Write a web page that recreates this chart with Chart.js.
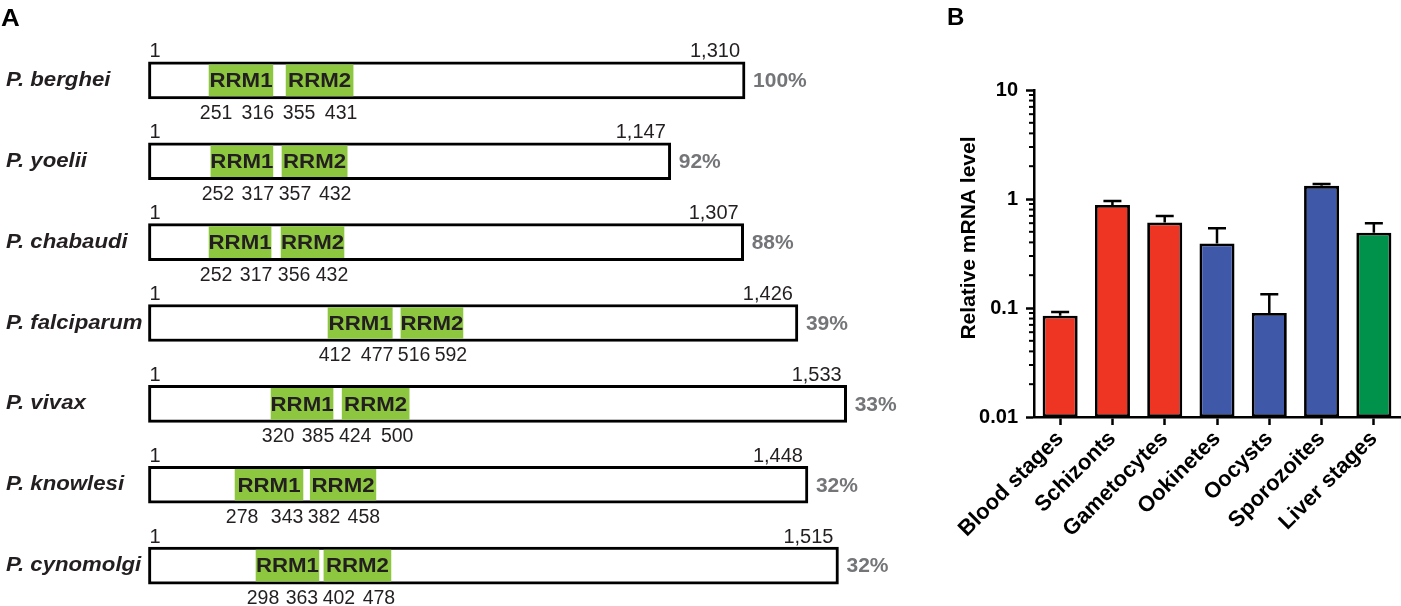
<!DOCTYPE html>
<html lang="en">
  <head>
    <meta charset="UTF-8" />
    <title>RRM protein orthologues and mRNA levels</title>
    <script src="https://cdn.jsdelivr.net/npm/chart.js"></script>
    <style>
      body {
        margin: 0;
        background: #fff;
      }
      #panelA {
        position: absolute;
        left: 0;
        top: 0;
        width: 900px;
        height: 606px;
      }
      #panelB {
        position: absolute;
        left: 900px;
        top: 0;
        width: 501px;
        height: 606px;
      }
    </style>
  </head>
  <body>
    <div id="panelA"><canvas id="domainChart"></canvas></div>
    <div id="panelB"><canvas id="mrnaChart"></canvas></div>
    <script>
      const fam = "'Liberation Sans', Arial, Helvetica, sans-serif";
      Chart.defaults.font.family = fam;
      Chart.defaults.color = "#000";

      // ---- panel A data ----
      const species = ["P. berghei", "P. yoelii", "P. chabaudi", "P. falciparum", "P. vivax", "P. knowlesi", "P. cynomolgi"];
      const proteinLength = [1310, 1147, 1307, 1426, 1533, 1448, 1515];
      const identity = [100, 92, 88, 39, 33, 32, 32];
      // residue boundaries printed under each domain
      const rrm1Residues = [[251, 316], [252, 317], [252, 317], [412, 477], [320, 385], [278, 343], [298, 363]];
      const rrm2Residues = [[355, 431], [357, 432], [356, 432], [516, 592], [424, 500], [382, 458], [402, 478]];
      // the figure draws the domains schematically (not to scale): extents
      const rrm1Drawn = [[134, 274], [138, 274], [134, 270], [395, 536], [270, 406], [191, 340], [237, 375]];
      const rrm2Drawn = [[303, 450], [294, 437], [292, 430], [555, 691], [426, 573], [356, 500], [386, 533]];

      // ---- panel B data ----
      const stages = ["Blood stages", "Schizonts", "Gametocytes", "Ookinetes", "Oocysts", "Sporozoites", "Liver stages"];
      const mrnaLevel = [0.085, 0.88, 0.61, 0.39, 0.09, 1.32, 0.49];
      const mrnaSd = [0.007, 0.08, 0.09, 0.15, 0.044, 0.05, 0.11];
      const yTicks = [0.01, 0.1, 1, 10];

      const red = "#ee3524";
      const blue = "#3f58a7";
      const green = "#00924a";
      const stageColors = [red, red, red, blue, blue, blue, green];
      const domainGreen = "#8dc63f";

      // text drawn slightly wider, like the source figure
      function wideText(ctx, str, x, y, sx) {
        ctx.save();
        ctx.translate(x, y);
        ctx.scale(sx, 1);
        ctx.fillText(str, 0, 0);
        ctx.restore();
      }

      const domainText = {
        id: "domainText",
        afterDatasetsDraw(chart) {
          const ctx = chart.ctx;
          const x = chart.scales.x;
          const y = chart.scales.y;
          ctx.save();
          ctx.fillStyle = "#000";
          ctx.textAlign = "left";
          ctx.textBaseline = "alphabetic";
          ctx.font = "bold 24px " + fam;
          wideText(ctx, "A", 1, 26, 1.08);

          species.forEach((name, i) => {
            const cy = y.getPixelForValue(i);
            const x0 = x.getPixelForValue(1);
            const x1 = x.getPixelForValue(proteinLength[i]);

            ctx.fillStyle = "#231f20";
            ctx.textAlign = "left";
            ctx.textBaseline = "middle";
            ctx.font = "italic bold 20px " + fam;
            wideText(ctx, name, 6, cy, 1.11);

            ctx.font = "20px " + fam;
            ctx.textBaseline = "alphabetic";
            ctx.fillText("1", x0 + 1, cy - 23);
            ctx.textAlign = "right";
            ctx.fillText(proteinLength[i].toLocaleString("en-US"), x1 - 5, cy - 23);

            ctx.textAlign = "left";
            ctx.textBaseline = "middle";
            ctx.font = "bold 21px " + fam;
            ctx.fillStyle = "#747578";
            ctx.fillText(identity[i] + "%", x1 + 8, cy + 1);

            const a1 = x.getPixelForValue(rrm1Drawn[i][0]);
            const b1 = x.getPixelForValue(rrm1Drawn[i][1]);
            const a2 = x.getPixelForValue(rrm2Drawn[i][0]);
            const b2 = x.getPixelForValue(rrm2Drawn[i][1]);

            ctx.fillStyle = "#231f20";
            ctx.textAlign = "center";
            ctx.font = "bold 21px " + fam;
            wideText(ctx, "RRM1", (a1 + b1) / 2, cy + 1, 1.06);
            wideText(ctx, "RRM2", (a2 + b2) / 2, cy + 1, 1.06);

            // residue numbers, the two inner ones kept apart
            let p1 = b1 - 15;
            let p2 = a2 + 13;
            if (p2 - p1 < 37) {
              const mid = (p1 + p2) / 2;
              p1 = mid - 18.5;
              p2 = mid + 18.5;
            }
            ctx.font = "19.5px " + fam;
            ctx.fillText(rrm1Residues[i][0], a1 + 7, cy + 33);
            ctx.fillText(rrm1Residues[i][1], p1, cy + 33);
            ctx.fillText(rrm2Residues[i][0], p2, cy + 33);
            ctx.fillText(rrm2Residues[i][1], b2 - 12, cy + 33);
          });
          ctx.restore();
        },
      };

      new Chart(document.getElementById("domainChart"), {
        type: "bar",
        data: {
          labels: species,
          datasets: [
            {
              label: "protein",
              data: proteinLength.map((l) => [1, l]),
              backgroundColor: "#fff",
              borderColor: "#000",
              borderWidth: 3,
              borderSkipped: false,
              barThickness: 37,
              grouped: false,
              order: 2,
            },
            {
              label: "RRM1",
              data: rrm1Drawn,
              backgroundColor: domainGreen,
              borderWidth: 0,
              barThickness: 31,
              grouped: false,
              order: 1,
            },
            {
              label: "RRM2",
              data: rrm2Drawn,
              backgroundColor: domainGreen,
              borderWidth: 0,
              barThickness: 31,
              grouped: false,
              order: 1,
            },
          ],
        },
        options: {
          indexAxis: "y",
          responsive: true,
          maintainAspectRatio: false,
          animation: false,
          layout: { padding: { left: 148, right: 0, top: 40, bottom: 0 } },
          plugins: { legend: { display: false }, tooltip: { enabled: false } },
          scales: {
            x: { type: "linear", min: 0, max: 1650, display: false },
            y: { display: false },
          },
        },
        plugins: [domainText],
      });

      const mrnaExtras = {
        id: "mrnaExtras",
        afterDatasetsDraw(chart) {
          const ctx = chart.ctx;
          const xs = chart.scales.x;
          const ys = chart.scales.y;
          ctx.save();
          ctx.strokeStyle = "#000";
          ctx.lineWidth = 2.5;
          // upper error bars
          mrnaLevel.forEach((v, i) => {
            const cx = xs.getPixelForValue(i);
            const top = ys.getPixelForValue(v);
            const e = ys.getPixelForValue(v + mrnaSd[i]);
            ctx.beginPath();
            ctx.moveTo(cx, top);
            ctx.lineTo(cx, e);
            ctx.moveTo(cx - 9, e);
            ctx.lineTo(cx + 9, e);
            ctx.stroke();
          });
          // minor log ticks
          ctx.lineWidth = 2;
          const ax = chart.chartArea.left;
          [0.01, 0.1, 1].forEach((d) => {
            for (let m = 2; m <= 9; m++) {
              const py = ys.getPixelForValue(m * d);
              ctx.beginPath();
              ctx.moveTo(ax - 5, py);
              ctx.lineTo(ax, py);
              ctx.stroke();
            }
          });
          // axis title, sits a little above the axis middle in the figure
          ctx.fillStyle = "#000";
          ctx.font = "bold 21px " + fam;
          ctx.textAlign = "center";
          ctx.textBaseline = "middle";
          ctx.save();
          ctx.translate(69, 238);
          ctx.rotate(-Math.PI / 2);
          ctx.fillText("Relative mRNA level", 0, 0);
          ctx.restore();

          ctx.font = "bold 24px " + fam;
          ctx.textAlign = "left";
          ctx.textBaseline = "alphabetic";
          ctx.fillText("B", 47, 25);
          ctx.restore();
        },
      };

      new Chart(document.getElementById("mrnaChart"), {
        type: "bar",
        data: {
          labels: stages,
          datasets: [
            {
              label: "Relative mRNA level",
              data: mrnaLevel,
              backgroundColor: stageColors,
              borderColor: "#000",
              borderWidth: 2.8,
              borderSkipped: false,
              categoryPercentage: 1,
              barPercentage: 0.67,
            },
          ],
        },
        options: {
          responsive: true,
          maintainAspectRatio: false,
          animation: false,
          layout: { padding: { left: 53, right: 1, top: 90, bottom: 0 } },
          plugins: { legend: { display: false }, tooltip: { enabled: false } },
          scales: {
            x: {
              type: "category",
              border: { color: "#000", width: 2.5 },
              grid: { drawOnChartArea: false, offset: false, tickLength: 8, tickWidth: 2.5, tickColor: "#000" },
              ticks: { font: { weight: "bold", size: 22 }, color: "#000", minRotation: 45, maxRotation: 45, autoSkip: false, padding: 1 },
              afterFit: (s) => {
                s.height = 189;
              },
            },
            y: {
              type: "logarithmic",
              min: 0.01,
              max: 10,
              border: { color: "#000", width: 2.5 },
              grid: { drawOnChartArea: false, tickLength: 8, tickWidth: 2.5, tickColor: "#000" },
              ticks: { font: { weight: "bold", size: 20 }, color: "#000", padding: 8, callback: (v) => String(v) },
              afterBuildTicks: (s) => {
                s.ticks = yTicks.map((v) => ({ value: v }));
              },
              afterFit: (s) => {
                s.width = 81;
              },
            },
          },
        },
        plugins: [mrnaExtras],
      });
    </script>
  </body>
</html>
